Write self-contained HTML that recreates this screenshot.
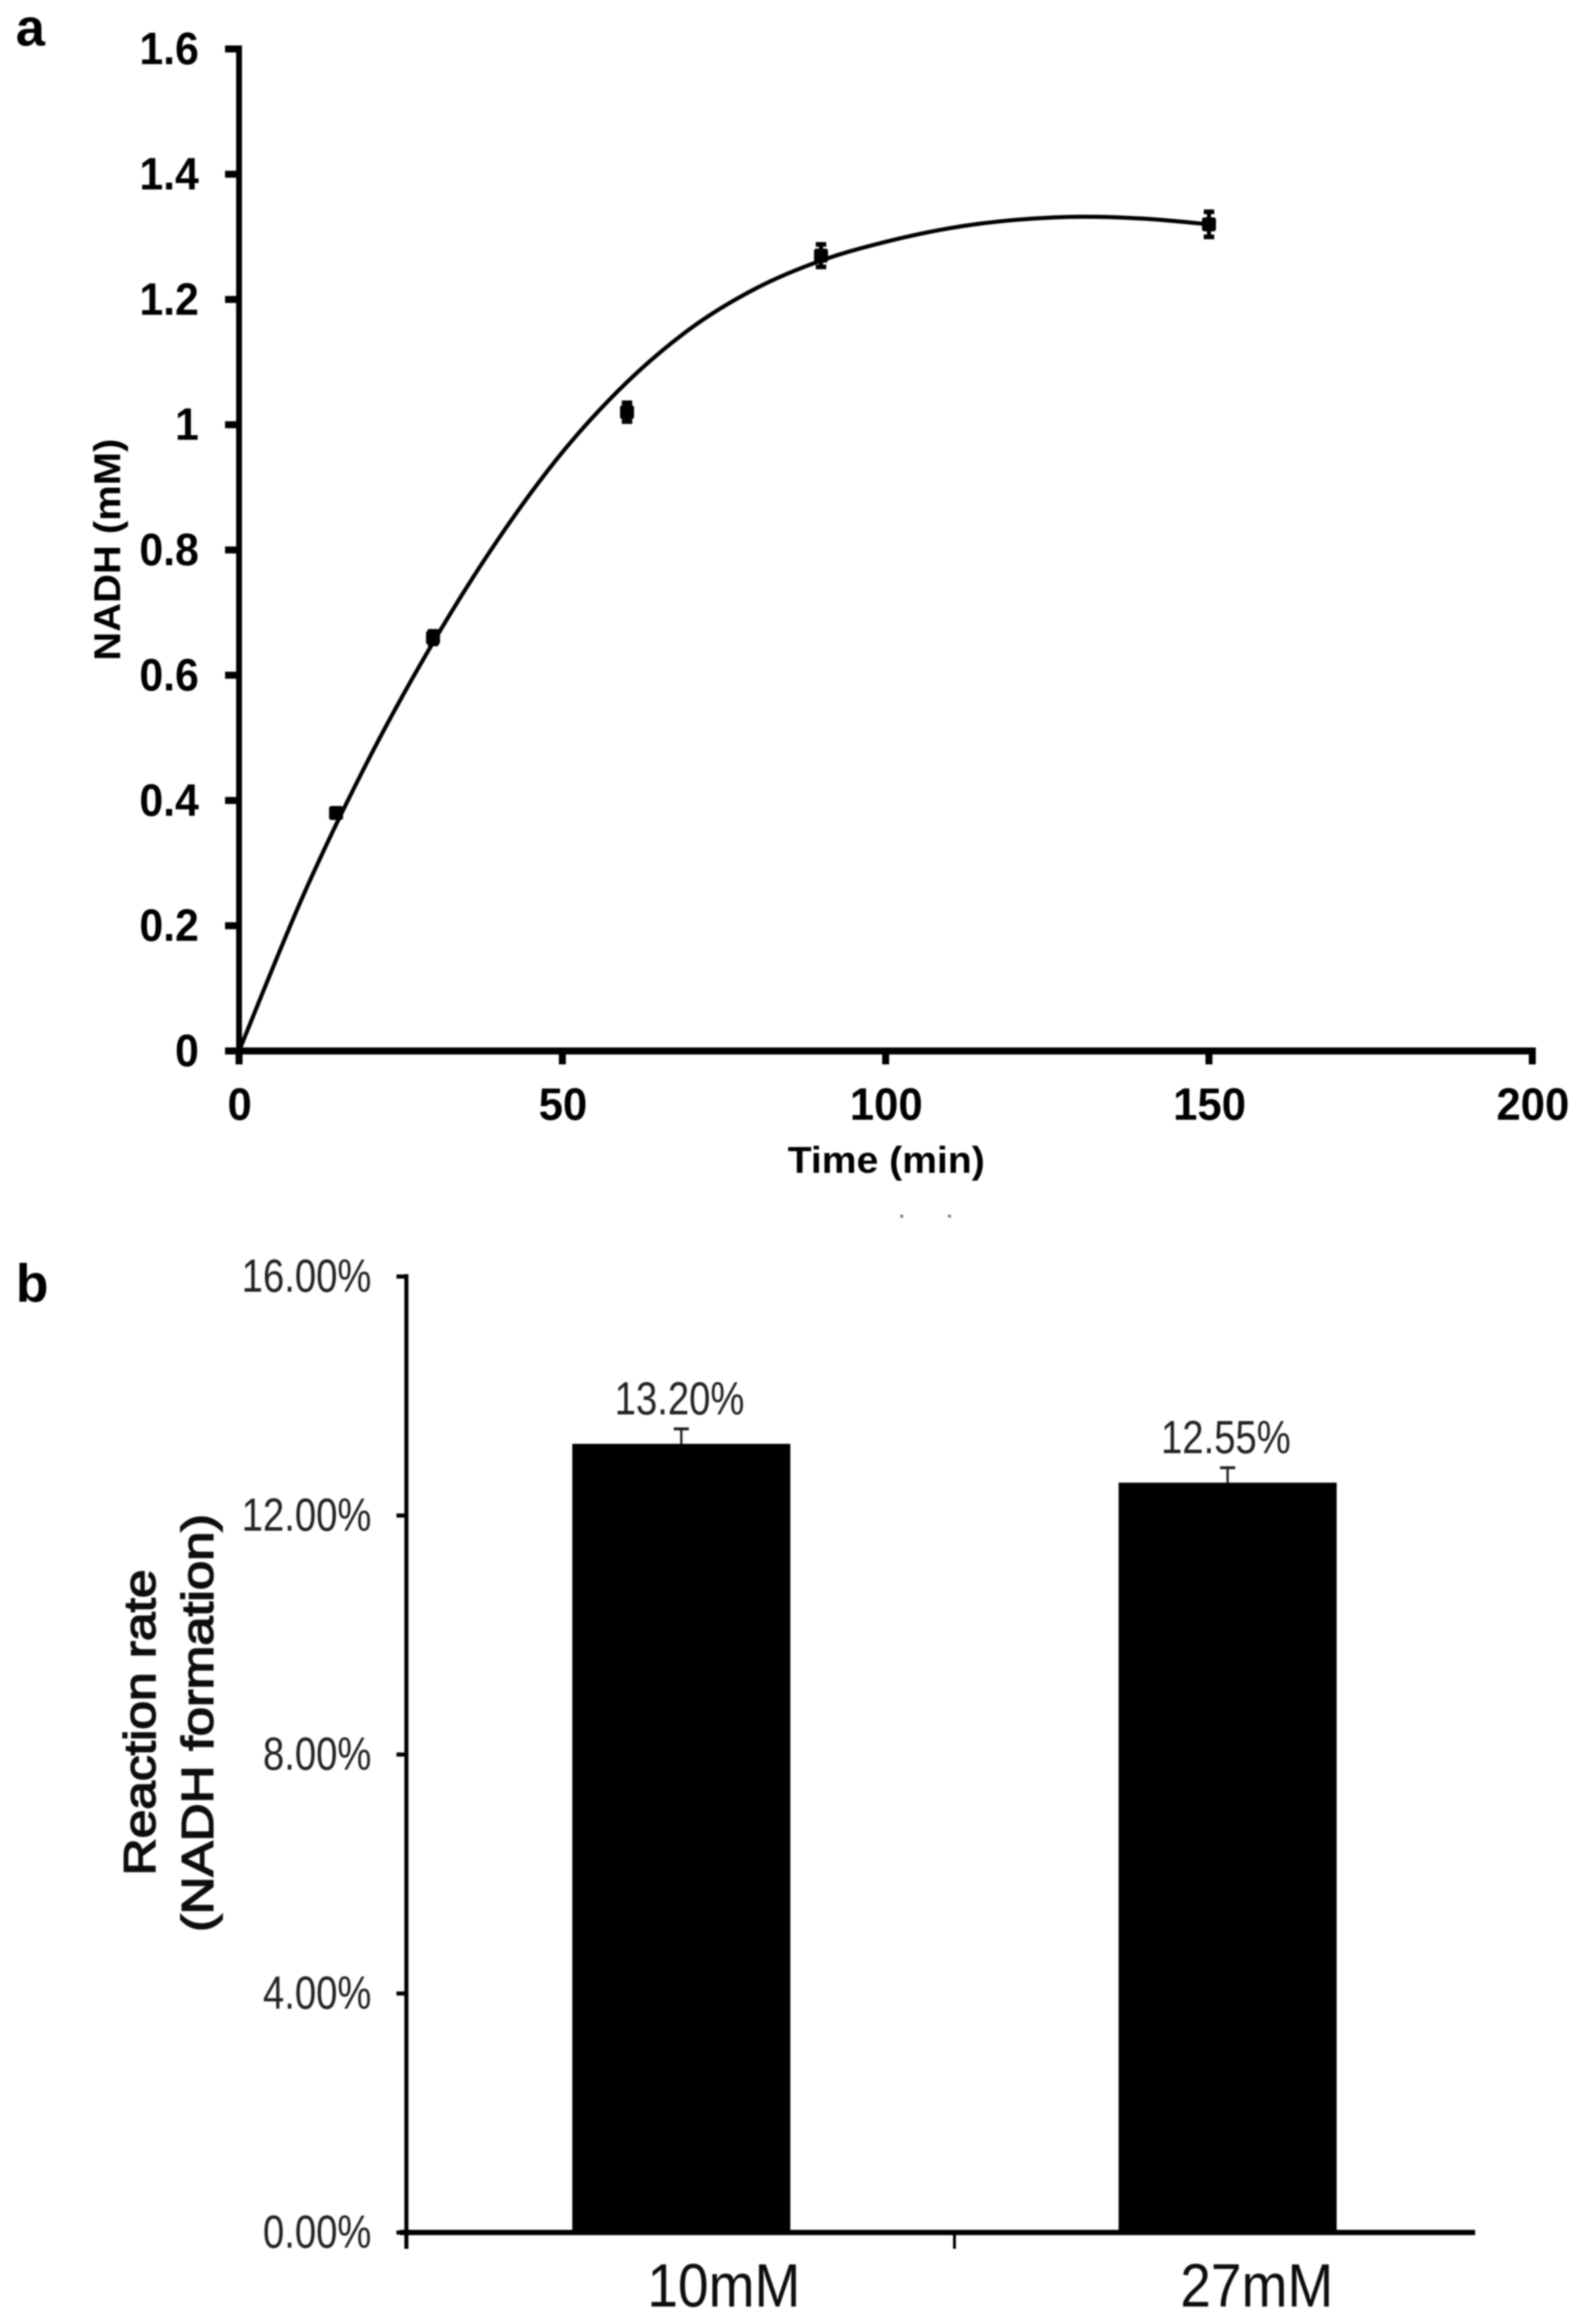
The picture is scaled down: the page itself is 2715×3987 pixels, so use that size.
<!DOCTYPE html>
<html lang="en">
<head>
<meta charset="utf-8">
<title>NADH formation charts</title>
<style>
html,body{margin:0;padding:0;background:#fff;}
svg{display:block;}
text{font-family:"Liberation Sans",Arial,sans-serif;}
</style>
</head>
<body>
<svg id="figure" xmlns="http://www.w3.org/2000/svg" width="2715" height="3987" viewBox="0 0 2715 3987">
  <defs>
    <filter id="soft" x="0" y="0" width="100%" height="100%" filterUnits="objectBoundingBox">
      <feGaussianBlur stdDeviation="1.4"/>
    </filter>
  </defs>
  <rect x="0" y="0" width="2715" height="3987" fill="#ffffff"/>
  <g id="root" filter="url(#soft)">
    <text x="27" y="78" font-size="90" font-weight="700" fill="#000">a</text>
    <text x="27" y="2233" font-size="92" font-weight="700" fill="#000">b</text>
    <text x="1520" y="2012" text-anchor="middle" font-size="64" font-weight="700" fill="#000" textLength="338" lengthAdjust="spacingAndGlyphs">Time (min)</text>
    <text transform="translate(206,943) rotate(-90)" text-anchor="middle" font-size="64" font-weight="700" fill="#000" textLength="381" lengthAdjust="spacingAndGlyphs">NADH (mM)</text>
    <text transform="translate(266,2955) rotate(-90)" text-anchor="middle" font-size="76" fill="#111" stroke="#111" stroke-width="2.5" textLength="525" lengthAdjust="spacingAndGlyphs">Reaction rate</text>
    <text transform="translate(365,2956) rotate(-90)" text-anchor="middle" font-size="76" fill="#111" stroke="#111" stroke-width="2.5" textLength="717" lengthAdjust="spacingAndGlyphs">(NADH formation)</text>
    <rect x="1544" y="2084" width="5" height="5" fill="#777"/>
    <rect x="1626" y="2084" width="5" height="5" fill="#777"/>
  </g>
</svg>
<script>
// Panel a data
const timeTicks = [0, 50, 100, 150, 200];
const nadhTicks = [0, 0.2, 0.4, 0.6, 0.8, 1, 1.2, 1.4, 1.6];
const sampleTimes = [15, 30, 60, 90, 150];
const sampleNadh = [0.38, 0.66, 1.02, 1.27, 1.32];
const sampleErrors = [0.005, 0.01, 0.015, 0.018, 0.02];
const trendTimes = [0, 10, 20, 30, 40, 50, 60, 70, 80, 90, 100, 110, 120, 130, 140, 150];
const trendNadh = [0, 0.25, 0.465, 0.652, 0.816, 0.956, 1.068, 1.155, 1.218, 1.262, 1.292, 1.314, 1.327, 1.332, 1.329, 1.32];

// Panel b data
const rateTicks = [0, 4, 8, 12, 16];
const rateTickLabels = ['0.00%', '4.00%', '8.00%', '12.00%', '16.00%'];
const categories = ['10mM', '27mM'];
const rateValues = [13.2, 12.55];
const rateErrors = [0.25, 0.25];
const rateLabels = ['13.20%', '12.55%'];

const NS = 'http://www.w3.org/2000/svg';
const root = document.getElementById('root');

function mk(tag, attrs, parent) {
  const el = document.createElementNS(NS, tag);
  for (const k in attrs) el.setAttribute(k, attrs[k]);
  (parent || root).appendChild(el);
  return el;
}

// Axis functions panel a
const xA = t => 410 + (t / 200) * 2218;
const yA = v => 1803 - (v / 1.6) * 1719;
// Axis functions panel b
const yB = v => 3830 - (v / 16) * 1640;
const xB = i => 700 + (i + 0.5) * 937;

// ---------- Panel a axes ----------
let el;
el = mk('line', {x1: xA(0), y1: yA(1.6) - 6, x2: xA(0), y2: yA(0) + 23, stroke: '#000', 'stroke-width': 10});


el = mk('line', {x1: xA(0), y1: yA(0), x2: xA(200) + 6, y2: yA(0), stroke: '#000', 'stroke-width': 12});



nadhTicks.forEach(v => {
  const tick = mk('line', {x1: 386, y1: yA(v), x2: xA(0), y2: yA(v), stroke: '#000', 'stroke-width': 12});
  
  
  const label = mk('text', {transform: 'translate(341,' + (yA(v) + 26) + ') scale(0.94,1)', 'text-anchor': 'end', 'font-size': 78, 'font-weight': 700, fill: '#000'});
  
  
  label.textContent = String(v);
});

timeTicks.forEach(t => {
  const tick = mk('line', {x1: xA(t), y1: yA(0), x2: xA(t), y2: yA(0) + 23, stroke: '#000', 'stroke-width': 12});
  
  
  const label = mk('text', {transform: 'translate(' + (xA(t) + 1) + ',1921) scale(0.96,1)', 'text-anchor': 'middle', 'font-size': 78, 'font-weight': 700, fill: '#000'});
  
  
  label.textContent = String(t);
});

// ---------- Trend curve (Catmull-Rom through values) ----------
const pts = trendTimes.map((t, i) => [xA(t), yA(trendNadh[i])]);
let d = 'M' + pts[0][0] + ' ' + pts[0][1];
for (let i = 0; i < pts.length - 1; i++) {
  const p0 = pts[Math.max(i - 1, 0)], p1 = pts[i], p2 = pts[i + 1], p3 = pts[Math.min(i + 2, pts.length - 1)];
  const c1x = p1[0] + (p2[0] - p0[0]) / 6, c1y = p1[1] + (p2[1] - p0[1]) / 6;
  const c2x = p2[0] - (p3[0] - p1[0]) / 6, c2y = p2[1] - (p3[1] - p1[1]) / 6;
  d += ' C' + c1x + ' ' + c1y + ' ' + c2x + ' ' + c2y + ' ' + p2[0] + ' ' + p2[1];
}
el = mk('path', {d: d, fill: 'none', stroke: '#000', 'stroke-width': 7});



// ---------- Sample points with error bars ----------
sampleTimes.forEach((t, i) => {
  const cx = xA(t), cy = yA(sampleNadh[i]);
  const top = yA(sampleNadh[i] + sampleErrors[i]), bot = yA(sampleNadh[i] - sampleErrors[i]);
  const bar = mk('line', {x1: cx, y1: top, x2: cx, y2: bot, stroke: '#000', 'stroke-width': 7});
  
  
  const capTop = mk('line', {x1: cx - 9, y1: top, x2: cx + 9, y2: top, stroke: '#000', 'stroke-width': 8});
  
  
  const capBot = mk('line', {x1: cx - 9, y1: bot, x2: cx + 9, y2: bot, stroke: '#000', 'stroke-width': 8});
  
  
  const marker = mk('rect', {x: cx - 12, y: cy - 12, width: 24, height: 24, rx: 4, fill: '#000'});
  
  
});

// ---------- Panel b axes ----------
el = mk('line', {x1: 697, y1: yB(16) - 4, x2: 697, y2: yB(0) + 28, stroke: '#000', 'stroke-width': 7});


el = mk('line', {x1: 686, y1: yB(0), x2: 2530, y2: yB(0), stroke: '#000', 'stroke-width': 9});


el = mk('line', {x1: xB(0) + 937 / 2, y1: yB(0), x2: xB(0) + 937 / 2, y2: yB(0) + 28, stroke: '#000', 'stroke-width': 5});



rateTicks.forEach((v, i) => {
  const tick = mk('line', {x1: 680, y1: yB(v), x2: 697, y2: yB(v), stroke: '#000', 'stroke-width': 7});
  
  
  const label = mk('text', {transform: 'translate(637,' + (yB(v) + 26) + ') scale(0.82,1)', 'text-anchor': 'end', 'font-size': 80, fill: '#222'});
  
  
  label.textContent = rateTickLabels[i];
});

// ---------- Bars ----------
categories.forEach((c, i) => {
  const cx = xB(i), topY = yB(rateValues[i]), errY = yB(rateValues[i] + rateErrors[i]);
  const bar = mk('rect', {x: cx - 187, y: topY, width: 374, height: yB(0) - topY, fill: '#000'});
  
  
  const err = mk('line', {x1: cx, y1: topY, x2: cx, y2: errY, stroke: '#222', 'stroke-width': 4});
  
  
  const cap = mk('line', {x1: cx - 13, y1: errY, x2: cx + 13, y2: errY, stroke: '#222', 'stroke-width': 5});
  
  
  const val = mk('text', {transform: 'translate(' + (cx - 3) + ',' + (errY - 25) + ') scale(0.82,1)', 'text-anchor': 'middle', 'font-size': 80, fill: '#222'});
  
  
  val.textContent = rateLabels[i];
  const cat = mk('text', {transform: 'translate(' + (cx + (i === 0 ? 73 : 50)) + ',3957) scale(0.9,1)', 'text-anchor': 'middle', 'font-size': 105, fill: '#111'});
  
  
  cat.textContent = c;
});
</script>
</body>
</html>
